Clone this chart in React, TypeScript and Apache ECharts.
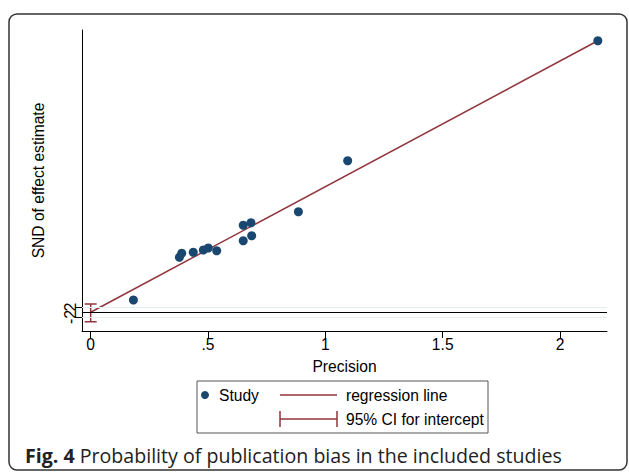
import React, { useEffect, useRef } from "react";
import * as echarts from "echarts";

// Study points: precision (x) and SND of effect estimate (y)
const precision = [0.182, 0.378, 0.388, 0.437, 0.48, 0.501, 0.537, 0.65, 0.683, 0.65, 0.686, 0.885, 1.095, 2.161];
const snd = [4.8, 21.9, 23.5, 23.9, 24.8, 25.6, 24.5, 34.7, 35.7, 28.5, 30.5, 40.1, 60.5, 108.5];

// Regression line endpoints
const regX = [0, 2.161];
const regY = [-0.1, 108.5];

// 95% CI for intercept
const ciX = [0];
const ciLow = [-3.9];
const ciHigh = [3.2];

const xTicks = [0, 0.5, 1, 1.5, 2];
const yTicks = [-2, 0, 2];

const RED = "#90353b";
const NAVY = "#1a476f";
const FONT = "'Liberation Sans', Arial, sans-serif";
const FS = 15.6;

export default function App() {
  const ref = useRef<HTMLDivElement>(null);
  useEffect(() => {
    if (!ref.current) return;
    const chart = echarts.init(ref.current, null, { renderer: "svg" });
    const option: any = {
      animation: false,
      backgroundColor: "#fff",
      textStyle: { fontFamily: FONT },
      grid: { left: 82, right: 22, top: 30, bottom: 141 },
      xAxis: {
        type: "value",
        min: -0.037,
        max: 2.2,
        name: "Precision",
        nameLocation: "middle",
        nameGap: 27,
        nameTextStyle: { fontSize: FS, color: "#000", fontFamily: FONT },
        axisLine: { onZero: false, lineStyle: { color: "#000", width: 1 } },
        axisTick: { customValues: xTicks, length: 7, lineStyle: { color: "#000" } },
        axisLabel: {
          customValues: xTicks,
          showMinLabel: true,
          showMaxLabel: true,
          fontSize: FS,
          color: "#000",
          margin: 5,
          fontFamily: FONT,
          formatter: (v: number) => String(v).replace(/^0\./, "."),
        },
        splitLine: { show: false },
      },
      yAxis: {
        type: "value",
        min: -7.6,
        max: 112.8,
        name: "SND of effect estimate",
        nameLocation: "middle",
        nameGap: 36,
        nameTextStyle: { fontSize: FS, color: "#000", fontFamily: FONT },
        axisLine: { onZero: false, lineStyle: { color: "#000", width: 1 } },
        axisTick: { customValues: yTicks, length: 7, lineStyle: { color: "#000" } },
        axisLabel: {
          customValues: yTicks,
          interval: 0,
          hideOverlap: false,
          showMinLabel: true,
          showMaxLabel: true,
          rotate: 90,
          fontSize: 16,
          color: "#000",
          margin: 4,
          fontFamily: FONT,
        },
        splitLine: { show: false },
      },
      series: [
        {
          type: "line",
          data: [],
          silent: true,
          markLine: {
            symbol: "none",
            silent: true,
            label: { show: false },
            data: [
              { yAxis: 2, lineStyle: { color: "#e4eef0", width: 1, type: "solid" } },
              { yAxis: -2, lineStyle: { color: "#e4eef0", width: 1, type: "solid" } },
              { yAxis: 0, lineStyle: { color: "#000", width: 1.2, type: "solid" } },
            ],
          },
        },
        {
          type: "line",
          data: regX.map((x, i) => [x, regY[i]]),
          symbol: "none",
          lineStyle: { color: RED, width: 1.5 },
          z: 3,
        },
        {
          type: "custom",
          data: ciX.map((x, i) => [x, ciLow[i], ciHigh[i]]),
          renderItem: (params: any, api: any) => {
            const lo = api.coord([api.value(0), api.value(1)]);
            const hi = api.coord([api.value(0), api.value(2)]);
            const w = 6;
            const style = { stroke: RED, lineWidth: 1.5 };
            return {
              type: "group",
              children: [
                { type: "line", shape: { x1: lo[0], y1: lo[1], x2: hi[0], y2: hi[1] }, style },
                { type: "line", shape: { x1: lo[0] - w, y1: lo[1], x2: lo[0] + w, y2: lo[1] }, style },
                { type: "line", shape: { x1: hi[0] - w, y1: hi[1], x2: hi[0] + w, y2: hi[1] }, style },
              ],
            };
          },
          z: 3,
        },
        {
          type: "scatter",
          data: precision.map((x, i) => [x, snd[i]]),
          symbol: "circle",
          symbolSize: 9,
          itemStyle: { color: NAVY, opacity: 1 },
          z: 4,
        },
      ],
      graphic: [
        {
          type: "rect",
          shape: { x: 9, y: 14, width: 618, height: 456, r: 8 },
          style: { fill: "none", stroke: "#333", lineWidth: 1.5 },
          silent: true,
        },
        {
          type: "rect",
          shape: { x: 197, y: 381, width: 291, height: 52 },
          style: { fill: "#fff", stroke: "#555", lineWidth: 1 },
        },
        { type: "circle", shape: { cx: 205, cy: 395, r: 4 }, style: { fill: NAVY } },
        {
          type: "text",
          x: 219,
          y: 395,
          style: { text: "Study", fontSize: FS, fontFamily: FONT, fill: "#000", verticalAlign: "middle" },
        },
        { type: "line", shape: { x1: 280, y1: 395, x2: 337, y2: 395 }, style: { stroke: RED, lineWidth: 1.5 } },
        {
          type: "text",
          x: 346,
          y: 395,
          style: { text: "regression line", fontSize: FS, fontFamily: FONT, fill: "#000", verticalAlign: "middle" },
        },
        { type: "line", shape: { x1: 280, y1: 419, x2: 337, y2: 419 }, style: { stroke: RED, lineWidth: 1.5 } },
        { type: "line", shape: { x1: 280, y1: 411, x2: 280, y2: 427 }, style: { stroke: RED, lineWidth: 1.5 } },
        { type: "line", shape: { x1: 337, y1: 411, x2: 337, y2: 427 }, style: { stroke: RED, lineWidth: 1.5 } },
        {
          type: "text",
          x: 346,
          y: 419,
          style: { text: "95% CI for intercept", fontSize: FS, fontFamily: FONT, fill: "#000", verticalAlign: "middle" },
        },
        {
          type: "text",
          x: 25,
          y: 455,
          style: {
            text: "{b|Fig. 4} Probability of publication bias in the included studies",
            verticalAlign: "middle",
            fontSize: 19.6,
            fontFamily: "'Open Sans', sans-serif",
            fill: "#222",
            rich: {
              b: { fontWeight: "bold", fontSize: 19.6, fontFamily: "'Open Sans', sans-serif", fill: "#222" },
            },
          },
        },
      ],
    };
    chart.setOption(option);
    return () => chart.dispose();
  }, []);
  return <div ref={ref} style={{ width: 629, height: 472, position: "absolute", left: 0, top: 0 }} />;
}
